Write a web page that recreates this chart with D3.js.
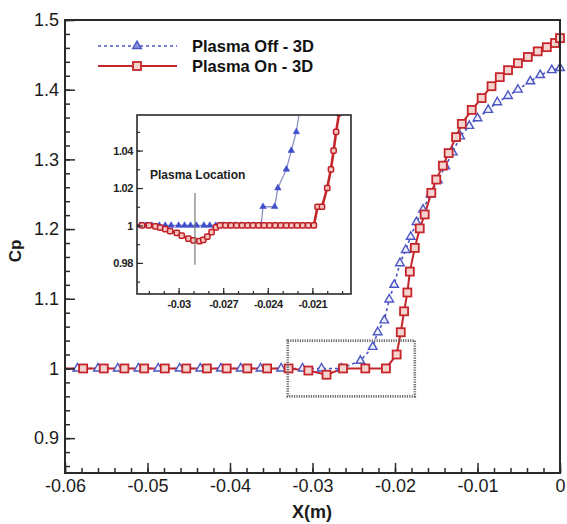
<!DOCTYPE html>
<html>
<head>
<meta charset="utf-8">
<script src="https://cdn.jsdelivr.net/npm/d3@7"></script>
<style>
  body { margin: 0; background: #fff; }
  svg { display: block; font-family: "Liberation Sans", Arial, sans-serif; }
</style>
</head>
<body>
<svg id="chart" width="567" height="524"></svg>
<script>
// ---- Surface pressure coefficient along the wall, full range ----
const offX = [-0.06, -0.0585, -0.056, -0.0536, -0.0511, -0.0487, -0.0461, -0.0436, -0.0411, -0.0387,
  -0.0363, -0.0338, -0.0312, -0.0289, -0.0265, -0.0242, -0.0227, -0.0221, -0.0213, -0.0207,
  -0.0201, -0.0194, -0.0187, -0.0181, -0.0174, -0.0166, -0.0157, -0.0148, -0.0139, -0.0130,
  -0.0121, -0.0110, -0.0100, -0.0087, -0.0076, -0.0063, -0.0051, -0.0036, -0.0024, -0.0010, 0];
const offCp = [1, 1, 1, 1, 1, 1, 1, 1, 1, 1,
  1, 1, 1, 1, 1, 1.011, 1.031, 1.052, 1.069, 1.099,
  1.120, 1.151, 1.170, 1.189, 1.210, 1.228, 1.250, 1.270, 1.290, 1.310,
  1.333, 1.348, 1.359, 1.371, 1.382, 1.391, 1.400, 1.412, 1.421, 1.428, 1.431];

const onX = [-0.06, -0.0578, -0.0553, -0.0528, -0.0504, -0.0479, -0.0453, -0.0428, -0.0404, -0.0379,
  -0.0355, -0.0329, -0.0305, -0.0283, -0.0263, -0.0236, -0.0211, -0.0198, -0.0193, -0.0189,
  -0.0185, -0.0182, -0.0176, -0.0170, -0.0164, -0.0156, -0.0150, -0.0142, -0.0135, -0.0126,
  -0.0119, -0.0107, -0.0095, -0.0083, -0.0073, -0.0063, -0.0051, -0.0039, -0.0027, -0.0016,
  -0.0006, 0];
const onCp = [1, 1, 1, 1, 1, 1, 1, 1, 1, 1,
  1, 1, 0.997, 0.991, 1, 1, 1, 1.020, 1.052, 1.082,
  1.109, 1.139, 1.173, 1.201, 1.221, 1.252, 1.271, 1.291, 1.309, 1.332,
  1.351, 1.371, 1.388, 1.405, 1.418, 1.428, 1.438, 1.447, 1.455, 1.461,
  1.467, 1.474];

// ---- Detail near the actuator (inset) ----
const offDetailX = [-0.0328, -0.0326, -0.0322, -0.0318, -0.0313, -0.0309, -0.0305, -0.0300, -0.0296, -0.0292,
  -0.0288, -0.0283, -0.0279, -0.0275, -0.0270, -0.0266, -0.0262, -0.0258, -0.0253, -0.0249,
  -0.02445, -0.02432, -0.02354, -0.02332, -0.02275, -0.02242, -0.02208, -0.0215];
const offDetailCp = [1, 1, 1, 1, 1, 1, 1, 1, 1, 1,
  1, 1, 1, 1, 1, 1, 1, 1, 1, 1,
  1, 1.01, 1.01, 1.02, 1.03, 1.04, 1.05, 1.08];

const onDetailX = [-0.0328, -0.03246, -0.0320, -0.03157, -0.03124, -0.0309, -0.03057, -0.03012, -0.02979, -0.02934,
  -0.0290, -0.0286, -0.02834, -0.02807, -0.02778, -0.02749, -0.02722, -0.02685, -0.02648, -0.0261,
  -0.02573, -0.02536, -0.0250, -0.02462, -0.02425, -0.02388, -0.0235, -0.02313, -0.02276, -0.0224,
  -0.02202, -0.02165, -0.02128, -0.0209, -0.02065, -0.02035, -0.0200, -0.01975, -0.01957, -0.0194,
  -0.0192, -0.0189];
const onDetailCp = [1, 1, 1, 0.9995, 0.9988, 0.998, 0.997, 0.996, 0.9946, 0.993,
  0.992, 0.9916, 0.9923, 0.994, 0.9964, 0.999, 1, 1, 1, 1,
  1, 1, 1, 1, 1, 1, 1, 1, 1, 1,
  1, 1, 1, 1, 1.01, 1.01, 1.02, 1.03, 1.04, 1.05,
  1.06, 1.08];

// ---- Axes, ticks and annotations ----
const xTicks = [-0.06, -0.05, -0.04, -0.03, -0.02, -0.01, 0];
const xTickLabels = ["-0.06", "-0.05", "-0.04", "-0.03", "-0.02", "-0.01", "0"];
const yTicks = [0.9, 1, 1.1, 1.2, 1.3, 1.4, 1.5];
const yTickLabels = ["0.9", "1", "1.1", "1.2", "1.3", "1.4", "1.5"];
const insetXTicks = [-0.03, -0.027, -0.024, -0.021];
const insetXTickLabels = ["-0.03", "-0.027", "-0.024", "-0.021"];
const insetYTicks = [0.98, 1, 1.02, 1.04];
const insetYTickLabels = ["0.98", "1", "1.02", "1.04"];
const zoomBoxX = [-0.033, -0.0176];
const zoomBoxCp = [0.96, 1.04];
const plasmaLocationX = -0.0289;
const plasmaLocationCp = [0.979, 1.0173];
const seriesNames = ["Plasma Off - 3D", "Plasma On - 3D"];

const BLUE = "#4b55c2";
const RED = "#c4262b";
const FRAME = "#2a2a2a";

const svg = d3.select("#chart");

// main plot area
const x = d3.scaleLinear().domain([-0.06, 0]).range([65, 560]);
const y = d3.scaleLinear().domain([0.85, 1.5]).range([473, 20]);

const zip = (xs, ys) => xs.map((v, i) => ({ x: v, y: ys[i] }));
const offData = zip(offX, offCp);
const onData = zip(onX, onCp);

svg.append("defs").append("clipPath").attr("id", "mainClip")
  .append("rect").attr("x", 65).attr("y", 20).attr("width", 495).attr("height", 453);

const mainLine = d3.line().x(d => x(d.x)).y(d => y(d.y));

const plot = svg.append("g");
plot.append("path").datum(offData)
  .attr("clip-path", "url(#mainClip)")
  .attr("fill", "none").attr("stroke", BLUE).attr("stroke-width", 1.6)
  .attr("stroke-dasharray", "3,3").attr("d", mainLine);
plot.append("path").datum(onData)
  .attr("clip-path", "url(#mainClip)")
  .attr("fill", "none").attr("stroke", RED).attr("stroke-width", 2)
  .attr("d", mainLine);

// markers (the curves start at the left boundary without a symbol)
const tri = d3.symbol().type(d3.symbolTriangle).size(32);
plot.append("g").selectAll("path").data(offData.filter(d => d.x > -0.06)).join("path")
  .attr("transform", d => `translate(${x(d.x)},${y(d.y)})`)
  .attr("d", tri).attr("fill", "#eef0fb").attr("stroke", BLUE).attr("stroke-width", 1.4);
plot.append("g").selectAll("rect").data(onData.filter(d => d.x > -0.06)).join("rect")
  .attr("x", d => x(d.x) - 4).attr("y", d => y(d.y) - 4)
  .attr("width", 8).attr("height", 8)
  .attr("fill", "#f5d3cf").attr("stroke", RED).attr("stroke-width", 1.8);

// dotted box marking the enlarged region
plot.append("rect")
  .attr("x", x(zoomBoxX[0])).attr("y", y(zoomBoxCp[1]))
  .attr("width", x(zoomBoxX[1]) - x(zoomBoxX[0]))
  .attr("height", y(zoomBoxCp[0]) - y(zoomBoxCp[1]))
  .attr("fill", "none").attr("stroke", "#6a6a6a").attr("stroke-width", 2.6)
  .attr("stroke-dasharray", "1.2,1.2");

// main axes: ticks pointing into the plot
function minorValues(lo, hi, step) {
  const out = [];
  for (let v = lo; v <= hi + step / 2; v += step) out.push(+v.toFixed(6));
  return out;
}
const xMinor = minorValues(-0.06, 0, 0.002);
const yMinor = minorValues(0.86, 1.5, 0.02);

const xAxisG = svg.append("g").attr("transform", "translate(0,473)");
xAxisG.call(d3.axisBottom(x).tickValues(xMinor).tickFormat("").tickSize(-5));
xAxisG.append("g").call(d3.axisBottom(x).tickValues(xTicks)
  .tickFormat((d, i) => xTickLabels[i]).tickSize(-10).tickPadding(6));
xAxisG.selectAll(".domain").remove();
xAxisG.selectAll("line").attr("stroke", FRAME).attr("stroke-width", 1.5);
xAxisG.selectAll("text").attr("font-size", 18).attr("fill", "#1a1a1a")
  .attr("font-family", "Liberation Sans, Arial, sans-serif");

const yAxisG = svg.append("g").attr("transform", "translate(65,0)");
yAxisG.call(d3.axisLeft(y).tickValues(yMinor).tickFormat("").tickSize(-5));
yAxisG.append("g").call(d3.axisLeft(y).tickValues(yTicks)
  .tickFormat((d, i) => yTickLabels[i]).tickSize(-10).tickPadding(6));
yAxisG.selectAll(".domain").remove();
yAxisG.selectAll("line").attr("stroke", FRAME).attr("stroke-width", 1.5);
yAxisG.selectAll("text").attr("font-size", 18).attr("fill", "#1a1a1a")
  .attr("font-family", "Liberation Sans, Arial, sans-serif");

// frame
svg.append("rect").attr("x", 65).attr("y", 20).attr("width", 495).attr("height", 453)
  .attr("fill", "none").attr("stroke", FRAME).attr("stroke-width", 2);

// axis titles
svg.append("text").attr("x", 312).attr("y", 518).attr("text-anchor", "middle")
  .attr("font-size", 18).attr("font-weight", "bold").attr("fill", "#1a1a1a").text("X(m)");
svg.append("text").attr("transform", "translate(21,251) rotate(-90)")
  .attr("text-anchor", "middle")
  .attr("font-size", 17).attr("font-weight", "bold").attr("fill", "#1a1a1a").text("Cp");

// legend
const legend = svg.append("g");
legend.append("line").attr("x1", 98).attr("x2", 177).attr("y1", 46).attr("y2", 46)
  .attr("stroke", BLUE).attr("stroke-width", 1.6).attr("stroke-dasharray", "3,3");
legend.append("path").attr("transform", "translate(137,46)").attr("d", tri)
  .attr("fill", "#8a92dc").attr("stroke", BLUE).attr("stroke-width", 1.4);
legend.append("line").attr("x1", 98).attr("x2", 177).attr("y1", 66).attr("y2", 66)
  .attr("stroke", RED).attr("stroke-width", 2);
legend.append("rect").attr("x", 133).attr("y", 62).attr("width", 8).attr("height", 8)
  .attr("fill", "#f5d3cf").attr("stroke", RED).attr("stroke-width", 1.8);
legend.selectAll("text").data(seriesNames).join("text")
  .attr("x", 192).attr("y", (d, i) => 52 + i * 20)
  .attr("font-size", 16.5).attr("font-weight", "bold").attr("fill", "#111")
  .text(d => d);

// ---- inset ----
const xi = d3.scaleLinear().domain([-0.0328, -0.0184]).range([137, 351]);
const yi = d3.scaleLinear().domain([0.9634, 1.059]).range([294, 115]);
const inset = svg.append("g");
inset.append("rect").attr("x", 137).attr("y", 115).attr("width", 214).attr("height", 179)
  .attr("fill", "#fff");
svg.select("defs").append("clipPath").attr("id", "insetClip")
  .append("rect").attr("x", 137).attr("y", 115).attr("width", 214).attr("height", 179);

const insetLine = d3.line().x(d => xi(d.x)).y(d => yi(d.y));
const offDetail = zip(offDetailX, offDetailCp);
const onDetail = zip(onDetailX, onDetailCp);

const insetPlot = inset.append("g").attr("clip-path", "url(#insetClip)");
insetPlot.append("path").datum(offDetail).attr("fill", "none")
  .attr("stroke", "#8d92c4").attr("stroke-width", 1.3).attr("d", insetLine);
const triSmall = d3.symbol().type(d3.symbolTriangle).size(18);
insetPlot.append("g").selectAll("path").data(offDetail.filter(d => d.x > -0.0328)).join("path")
  .attr("transform", d => `translate(${xi(d.x)},${yi(d.y)})`)
  .attr("d", triSmall).attr("fill", "#3f4ecb").attr("stroke", "#3f4ecb").attr("stroke-width", 0.6);
insetPlot.append("path").datum(onDetail).attr("fill", "none")
  .attr("stroke", RED).attr("stroke-width", 2.6).attr("d", insetLine);
insetPlot.append("g").selectAll("rect").data(onDetail.filter(d => d.x > -0.0328)).join("rect")
  .attr("x", d => xi(d.x) - 2.6).attr("y", d => yi(d.y) - 2.6)
  .attr("width", 5.2).attr("height", 5.2).attr("rx", 1.2)
  .attr("fill", "#f3c6c2").attr("stroke", "#c01e24").attr("stroke-width", 1.5);

// plasma location marker
inset.append("line")
  .attr("x1", xi(plasmaLocationX)).attr("x2", xi(plasmaLocationX))
  .attr("y1", yi(plasmaLocationCp[0])).attr("y2", yi(plasmaLocationCp[1]))
  .attr("stroke", "#7a7a7a").attr("stroke-width", 1.2);
inset.append("text").attr("x", 150).attr("y", 179)
  .attr("font-size", 12).attr("font-weight", "bold").attr("fill", "#222")
  .text("Plasma Location");

// inset axes
const ixAxis = inset.append("g").attr("transform", "translate(0,294)");
ixAxis.call(d3.axisBottom(xi).tickValues(minorValues(-0.032, -0.019, 0.001)).tickFormat("").tickSize(-3));
ixAxis.append("g").call(d3.axisBottom(xi).tickValues(insetXTicks)
  .tickFormat((d, i) => insetXTickLabels[i]).tickSize(-6).tickPadding(6));
ixAxis.selectAll(".domain").remove();
ixAxis.selectAll("line").attr("stroke", FRAME).attr("stroke-width", 1.2);
ixAxis.selectAll("text").attr("font-size", 11).attr("font-weight", "bold").attr("fill", "#222")
  .attr("letter-spacing", "-0.4").attr("font-family", "Liberation Sans, Arial, sans-serif");

const iyAxis = inset.append("g").attr("transform", "translate(137,0)");
iyAxis.call(d3.axisLeft(yi).tickValues(minorValues(0.97, 1.05, 0.01)).tickFormat("").tickSize(-3));
iyAxis.append("g").call(d3.axisLeft(yi).tickValues(insetYTicks)
  .tickFormat((d, i) => insetYTickLabels[i]).tickSize(-6).tickPadding(4));
iyAxis.selectAll(".domain").remove();
iyAxis.selectAll("line").attr("stroke", FRAME).attr("stroke-width", 1.2);
iyAxis.selectAll("text").attr("font-size", 11).attr("font-weight", "bold").attr("fill", "#222")
  .attr("letter-spacing", "-0.4").attr("font-family", "Liberation Sans, Arial, sans-serif");

inset.append("rect").attr("x", 137).attr("y", 115).attr("width", 214).attr("height", 179)
  .attr("fill", "none").attr("stroke", FRAME).attr("stroke-width", 1.6);
</script>
</body>
</html>
